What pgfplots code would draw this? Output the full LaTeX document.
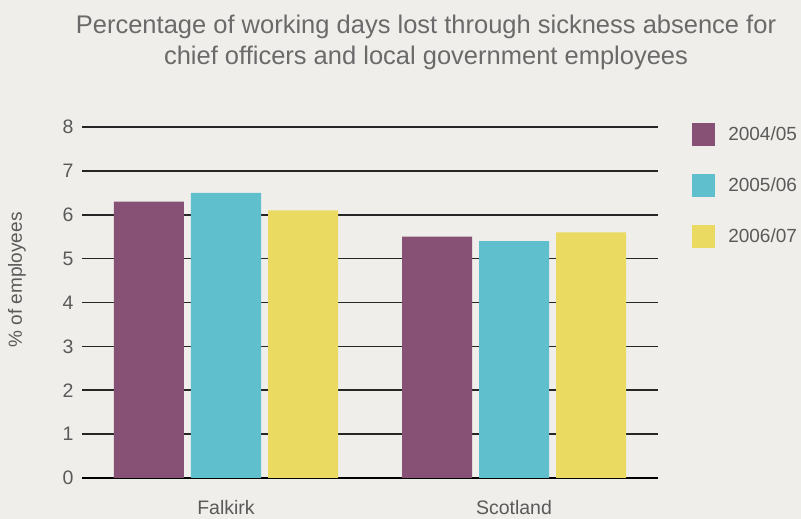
\documentclass[border=0pt]{standalone}
\usepackage{fontspec}
\setmainfont{Liberation Sans}
\usepackage{pgfplots}
\pgfplotsset{compat=1.18}
\definecolor{bg}{HTML}{EFEEEA}
\definecolor{c1}{HTML}{865175}
\definecolor{c2}{HTML}{5FBFCD}
\definecolor{c3}{HTML}{EBDA62}
\definecolor{txt}{HTML}{5A5A5A}
\definecolor{ttl}{HTML}{6A6A6A}
\begin{document}
\begin{tikzpicture}[x=1pt,y=1pt]
\fill[bg] (0,0) rectangle (801,519);
\useasboundingbox (0,0) rectangle (801,519);
\node[ttl, align=center, font=\fontsize{25.5}{31}\selectfont] at (426,476.5) {Percentage of working days lost through sickness absence for\\chief officers and local government employees};
\begin{axis}[at={(82pt,41pt)}, anchor=south west, scale only axis,
 width=576pt, height=351pt,
 xmin=-0.5, xmax=1.5, ymin=0, ymax=8,
 ybar=7pt, bar width=70pt,
 xtick={0,1}, xticklabels={Falkirk,Scotland},
 ytick={1,2,3,4,5,6,7,8},
 extra y ticks={0},
 extra y tick style={major grid style={black, line width=2.8pt}},
 ymajorgrids,
 major grid style={color=black!85, line width=1.6pt},
 axis line style={draw=none}, major tick length=0pt,
 tick label style={font=\fontsize{19.5}{19.5}\selectfont, text=txt},
 yticklabel style={xshift=-5pt},
 xticklabel style={yshift=-18.5pt},
 /pgf/number format/assume math mode=true,
 ylabel={\% of employees},
 ylabel style={at={(axis description cs:-0.1128,0.564)}, anchor=center, font=\fontsize{19}{19}\selectfont, text=txt},
 legend style={at={(axis description cs:1.054,1.017)}, anchor=north west, draw=none, fill=none,
   font=\fontsize{19}{19}\selectfont, text=txt, row sep=28pt, column sep=13pt,
   nodes={inner sep=0pt, minimum height=23pt}},
 legend cell align=left,
 legend image code/.code={\fill[draw=none] (0pt,-11.5pt) rectangle (23pt,11.5pt);},
]
\addplot[fill=c1, draw=none] coordinates {(0,6.3) (1,5.5)};
\addplot[fill=c2, draw=none] coordinates {(0,6.5) (1,5.4)};
\addplot[fill=c3, draw=none] coordinates {(0,6.1) (1,5.6)};
\legend{2004/05,2005/06,2006/07}
\end{axis}
\end{tikzpicture}
\end{document}
